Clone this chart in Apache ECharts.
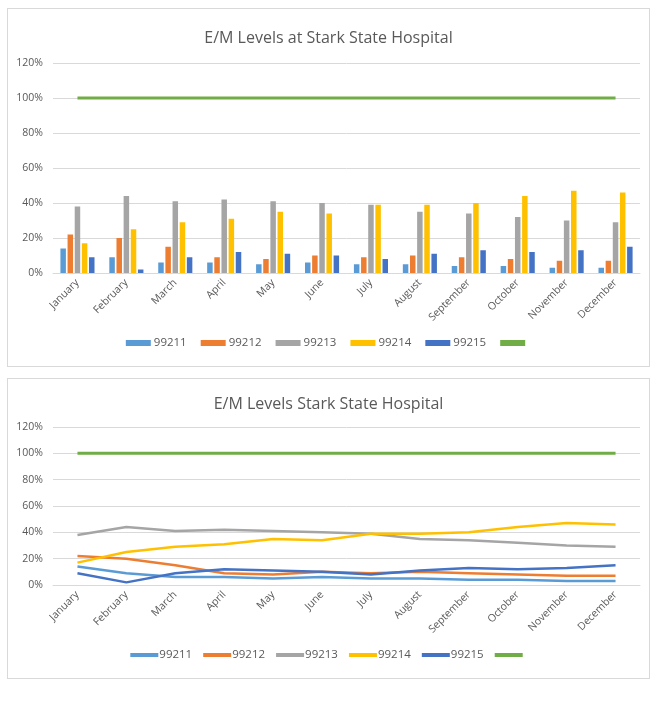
<!DOCTYPE html>
<html>
<head>
<meta charset="utf-8">
<title>E/M Levels</title>
<script src="https://cdn.jsdelivr.net/npm/echarts@6/dist/echarts.min.js"></script>
<style>
	body { margin: 0; background: #fff; }
	.box { position: absolute; left: 7px; width: 641px; border: 1px solid #d9d9d9; background: #fff; }
	#bar_box { top: 8px; height: 357px; }
	#line_box { top: 378px; height: 299px; }
</style>
</head>
<body>
<div id="bar_box" class="box"></div>
<div id="line_box" class="box"></div>
<script>
// 数据
var months = ['January', 'February', 'March', 'April', 'May', 'June', 'July', 'August', 'September', 'October', 'November', 'December'];
var codes = ['99211', '99212', '99213', '99214', '99215'];
var v99211 = [14, 9, 6, 6, 5, 6, 5, 5, 4, 4, 3, 3];
var v99212 = [22, 20, 15, 9, 8, 10, 9, 10, 9, 8, 7, 7];
var v99213 = [38, 44, 41, 42, 41, 40, 39, 35, 34, 32, 30, 29];
var v99214 = [17, 25, 29, 31, 35, 34, 39, 39, 40, 44, 47, 46];
var v99215 = [9, 2, 9, 12, 11, 10, 8, 11, 13, 12, 13, 15];
var target = [100, 100, 100, 100, 100, 100, 100, 100, 100, 100, 100, 100];
var yTicks = [0, 20, 40, 60, 80, 100, 120];

var colors = ['#5B9BD5', '#ED7D31', '#A5A5A5', '#FFC000', '#4472C4'];
var green = '#70AD47';
var font = 'Open Sans';

function emCharts() {

	var self = this;
	var values = [v99211, v99212, v99213, v99214, v99215];

	this.axes = function() {
		return {
			xAxis: {
				type: 'category',
				data: months,
				axisTick: { show: false },
				axisLine: { lineStyle: { color: '#d9d9d9' } },
				axisLabel: { rotate: 45, color: '#595959', fontSize: 10.5, fontFamily: font, margin: 8, interval: 0 }
			},
			yAxis: {
				type: 'value',
				min: yTicks[0],
				max: yTicks[yTicks.length - 1],
				interval: 20,
				axisLabel: { formatter: '{value}%', color: '#595959', fontSize: 10.5, fontFamily: font, margin: 10 },
				splitLine: { show: true, lineStyle: { color: '#d9d9d9' } },
				axisLine: { show: false },
				axisTick: { show: false }
			}
		};
	}

	this.init = function() {

		// 柱状图
		var barChart = echarts.init(document.getElementById('bar_box'));
		var a = self.axes();
		var barSeries = codes.map(function(c, i) {
			return {
				name: c,
				type: 'bar',
				barWidth: 5.5,
				barGap: '30%',
				itemStyle: { color: colors[i] },
				data: values[i]
			};
		});
		barSeries.push({
			name: ' ',
			type: 'line',
			symbol: 'none',
			lineStyle: { width: 3, color: green },
			itemStyle: { color: green },
			data: target
		});
		barChart.setOption({
			animation: false,
			title: {
				text: 'E/M Levels at Stark State Hospital',
				left: 'center',
				top: 16,
				textStyle: { color: '#595959', fontSize: 16, fontWeight: 'normal', fontFamily: font }
			},
			grid: { left: 45, right: 9, top: 54, bottom: 93 },
			legend: {
				bottom: 12,
				left: 'center',
				itemWidth: 25,
				itemHeight: 6,
				itemGap: 14,
				textStyle: { color: '#595959', fontSize: 11.5, fontFamily: font, padding: [0, 0, 0, -2] },
				data: codes.map(function(c) { return { name: c, icon: 'rect' }; }).concat([{ name: ' ', icon: 'rect', itemStyle: { color: green } }])
			},
			xAxis: a.xAxis,
			yAxis: a.yAxis,
			series: barSeries
		});

		// 折线图
		var lineChart = echarts.init(document.getElementById('line_box'));
		var b = self.axes();
		var lineSeries = codes.map(function(c, i) {
			return {
				name: c,
				type: 'line',
				symbol: 'none',
				lineStyle: { width: 2.5, color: colors[i] },
				itemStyle: { color: colors[i] },
				data: values[i]
			};
		});
		lineSeries.push({
			name: ' ',
			type: 'line',
			symbol: 'none',
			lineStyle: { width: 3, color: green },
			itemStyle: { color: green },
			data: target
		});
		lineChart.setOption({
			animation: false,
			title: {
				text: 'E/M Levels Stark State Hospital',
				left: 'center',
				top: 12,
				textStyle: { color: '#595959', fontSize: 16, fontWeight: 'normal', fontFamily: font }
			},
			grid: { left: 45, right: 9, top: 48, bottom: 93 },
			legend: {
				bottom: 12,
				left: 'center',
				itemWidth: 28,
				itemHeight: 4,
				itemGap: 11,
				textStyle: { color: '#595959', fontSize: 11.5, fontFamily: font, padding: [0, 0, 0, -4] },
				data: codes.map(function(c) { return { name: c, icon: 'rect' }; }).concat([{ name: ' ', icon: 'rect' }])
			},
			xAxis: b.xAxis,
			yAxis: b.yAxis,
			series: lineSeries
		});

		window.onresize = function() {
			barChart.resize();
			lineChart.resize();
		};
	}

	self.init();

}

new emCharts();
</script>
</body>
</html>
